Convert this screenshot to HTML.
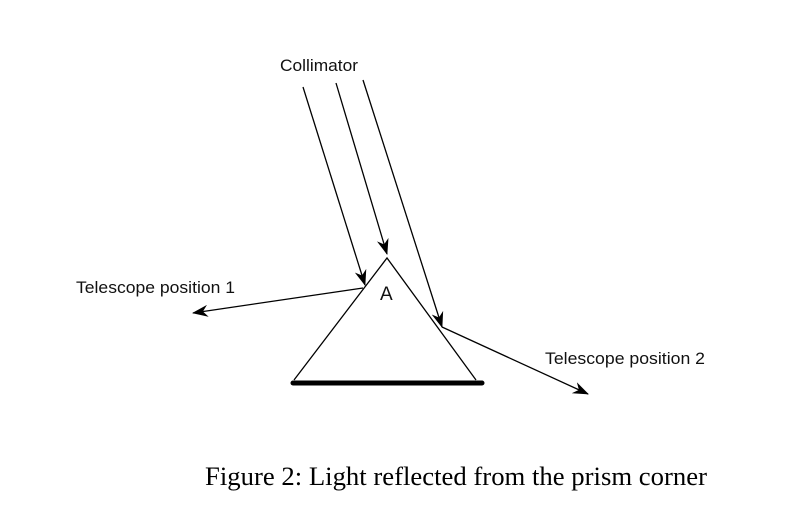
<!DOCTYPE html>
<html><head><style>html,body{margin:0;padding:0;background:#fff}</style></head>
<body>
<svg width="807" height="514" viewBox="0 0 807 514" xmlns="http://www.w3.org/2000/svg">
<defs>
<marker id="a" viewBox="0 0 16 12" refX="15" refY="6" markerWidth="16" markerHeight="12" markerUnits="userSpaceOnUse" orient="auto">
<path d="M0,0 L16,6 L0,12 L5,6 z" fill="#000"/>
</marker>
</defs>
<g stroke="#000" stroke-width="1.3" fill="none">
<line x1="303" y1="87" x2="365" y2="285" marker-end="url(#a)"/>
<line x1="336" y1="83" x2="387" y2="254" marker-end="url(#a)"/>
<line x1="363" y1="80" x2="442" y2="327" marker-end="url(#a)"/>
<line x1="363" y1="288" x2="193" y2="313" marker-end="url(#a)"/>
<line x1="442" y1="327" x2="588" y2="394" marker-end="url(#a)"/>
<polyline points="294,380 387,258 476,380"/>
</g>
<line x1="293" y1="383" x2="482" y2="383" stroke="#000" stroke-width="5" stroke-linecap="round"/>
<g font-family="Liberation Sans, sans-serif" font-size="16.5" fill="#111">
<text x="280" y="71" textLength="78" lengthAdjust="spacingAndGlyphs">Collimator</text>
<text x="76" y="293" textLength="159" lengthAdjust="spacingAndGlyphs">Telescope position 1</text>
<text x="545" y="364" textLength="160" lengthAdjust="spacingAndGlyphs">Telescope position 2</text>
<text x="380" y="300" font-size="19">A</text>
</g>
<text x="205" y="485" font-family="Liberation Serif, serif" font-size="26" textLength="502" lengthAdjust="spacingAndGlyphs">Figure 2: Light reflected from the prism corner</text>
</svg>
</body></html>
